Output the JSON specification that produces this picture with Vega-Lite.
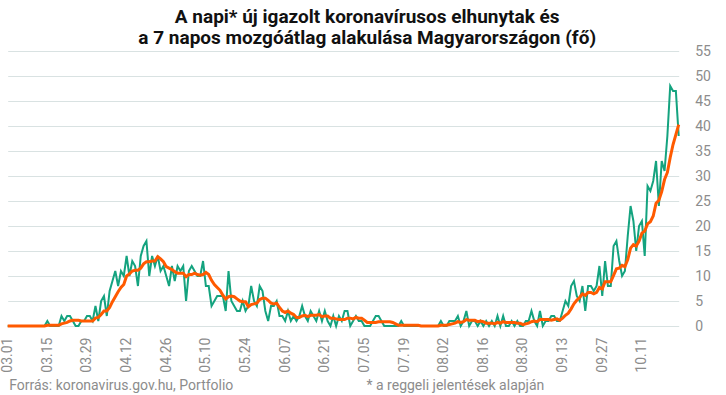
{
"$schema": "https://vega.github.io/schema/vega-lite/v6.json",
"width": 671,
"height": 275,
"autosize": {"type": "none"},
"padding": {"left": 7.7, "top": 51, "right": 47.3, "bottom": 69},
"background": "white",
"config": {"view": {"stroke": null}},
"title": {"text": ["A napi* új igazolt koronavírusos elhunytak és", "a 7 napos mozgóátlag alakulása Magyarországon (fő)"], "font": "Roboto", "fontSize": 19, "fontWeight": "bold", "color": "#111111", "anchor": "middle", "frame": "group", "dx": 24, "lineHeight": 20.6, "offset": -4},
"data": {"values": [
{"date":"2020-03-01","napi":0,"atlag":0},{"date":"2020-03-02","napi":0,"atlag":0},{"date":"2020-03-03","napi":0,"atlag":0},{"date":"2020-03-04","napi":0,"atlag":0},{"date":"2020-03-05","napi":0,"atlag":0},{"date":"2020-03-06","napi":0,"atlag":0},{"date":"2020-03-07","napi":0,"atlag":0},{"date":"2020-03-08","napi":0,"atlag":0},{"date":"2020-03-09","napi":0,"atlag":0},{"date":"2020-03-10","napi":0,"atlag":0},{"date":"2020-03-11","napi":0,"atlag":0},{"date":"2020-03-12","napi":0,"atlag":0},{"date":"2020-03-13","napi":0,"atlag":0},{"date":"2020-03-14","napi":0,"atlag":0},
{"date":"2020-03-15","napi":1,"atlag":0.14},{"date":"2020-03-16","napi":0,"atlag":0.14},{"date":"2020-03-17","napi":0,"atlag":0.14},{"date":"2020-03-18","napi":0,"atlag":0.14},{"date":"2020-03-19","napi":0,"atlag":0.14},{"date":"2020-03-20","napi":2,"atlag":0.43},{"date":"2020-03-21","napi":1,"atlag":0.57},{"date":"2020-03-22","napi":2,"atlag":0.71},{"date":"2020-03-23","napi":2,"atlag":1},{"date":"2020-03-24","napi":1,"atlag":1.14},{"date":"2020-03-25","napi":0,"atlag":1.14},{"date":"2020-03-26","napi":0,"atlag":1.14},{"date":"2020-03-27","napi":1,"atlag":1},{"date":"2020-03-28","napi":1,"atlag":1},{"date":"2020-03-29","napi":2,"atlag":1},{"date":"2020-03-30","napi":2,"atlag":1},{"date":"2020-03-31","napi":1,"atlag":1},
{"date":"2020-04-01","napi":4,"atlag":1.57},{"date":"2020-04-02","napi":1,"atlag":1.71},{"date":"2020-04-03","napi":5,"atlag":2.29},{"date":"2020-04-04","napi":6,"atlag":3},{"date":"2020-04-05","napi":2,"atlag":3},{"date":"2020-04-06","napi":7,"atlag":3.71},{"date":"2020-04-07","napi":9,"atlag":4.86},{"date":"2020-04-08","napi":11,"atlag":5.86},{"date":"2020-04-09","napi":8,"atlag":6.86},{"date":"2020-04-10","napi":11,"atlag":7.71},{"date":"2020-04-11","napi":10,"atlag":8.29},{"date":"2020-04-12","napi":14,"atlag":10},{"date":"2020-04-13","napi":10,"atlag":10.43},{"date":"2020-04-14","napi":13,"atlag":11},{"date":"2020-04-15","napi":12,"atlag":11.14},{"date":"2020-04-16","napi":8,"atlag":11.14},{"date":"2020-04-17","napi":14,"atlag":11.57},{"date":"2020-04-18","napi":16,"atlag":12.43},{"date":"2020-04-19","napi":17,"atlag":12.86},{"date":"2020-04-20","napi":10,"atlag":12.86},{"date":"2020-04-21","napi":14,"atlag":13},{"date":"2020-04-22","napi":12,"atlag":13},{"date":"2020-04-23","napi":14,"atlag":13.86},{"date":"2020-04-24","napi":11,"atlag":13.43},{"date":"2020-04-25","napi":12,"atlag":12.86},{"date":"2020-04-26","napi":10,"atlag":11.86},{"date":"2020-04-27","napi":8,"atlag":11.57},{"date":"2020-04-28","napi":12,"atlag":11.29},{"date":"2020-04-29","napi":9,"atlag":10.86},{"date":"2020-04-30","napi":12,"atlag":10.57},
{"date":"2020-05-01","napi":11,"atlag":10.57},{"date":"2020-05-02","napi":12,"atlag":10.57},{"date":"2020-05-03","napi":5,"atlag":9.86},{"date":"2020-05-04","napi":11,"atlag":10.29},{"date":"2020-05-05","napi":12,"atlag":10.29},{"date":"2020-05-06","napi":11,"atlag":10.57},{"date":"2020-05-07","napi":10,"atlag":10.29},{"date":"2020-05-08","napi":10,"atlag":10.14},{"date":"2020-05-09","napi":13,"atlag":10.29},{"date":"2020-05-10","napi":8,"atlag":10.71},{"date":"2020-05-11","napi":8,"atlag":10.29},{"date":"2020-05-12","napi":4,"atlag":9.14},{"date":"2020-05-13","napi":5,"atlag":8.29},{"date":"2020-05-14","napi":6,"atlag":7.71},{"date":"2020-05-15","napi":6,"atlag":7.14},{"date":"2020-05-16","napi":6,"atlag":6.14},{"date":"2020-05-17","napi":3,"atlag":5.43},{"date":"2020-05-18","napi":11,"atlag":5.86},{"date":"2020-05-19","napi":5,"atlag":6},{"date":"2020-05-20","napi":4,"atlag":5.86},{"date":"2020-05-21","napi":3,"atlag":5.43},{"date":"2020-05-22","napi":3,"atlag":5},{"date":"2020-05-23","napi":5,"atlag":4.86},{"date":"2020-05-24","napi":3,"atlag":4.86},{"date":"2020-05-25","napi":4,"atlag":3.86},{"date":"2020-05-26","napi":8,"atlag":4.29},{"date":"2020-05-27","napi":5,"atlag":4.43},{"date":"2020-05-28","napi":4,"atlag":4.57},{"date":"2020-05-29","napi":8,"atlag":5.29},{"date":"2020-05-30","napi":7,"atlag":5.57},{"date":"2020-05-31","napi":3,"atlag":5.57},
{"date":"2020-06-01","napi":1,"atlag":5.14},{"date":"2020-06-02","napi":4,"atlag":4.57},{"date":"2020-06-03","napi":4,"atlag":4.43},{"date":"2020-06-04","napi":5,"atlag":4.57},{"date":"2020-06-05","napi":2,"atlag":3.71},{"date":"2020-06-06","napi":2,"atlag":3},{"date":"2020-06-07","napi":1,"atlag":2.71},{"date":"2020-06-08","napi":3,"atlag":3},{"date":"2020-06-09","napi":1,"atlag":2.57},{"date":"2020-06-10","napi":2,"atlag":2.29},{"date":"2020-06-11","napi":1,"atlag":1.71},{"date":"2020-06-12","napi":2,"atlag":1.71},{"date":"2020-06-13","napi":4,"atlag":2},{"date":"2020-06-14","napi":2,"atlag":2.14},{"date":"2020-06-15","napi":1,"atlag":1.86},{"date":"2020-06-16","napi":3,"atlag":2.14},{"date":"2020-06-17","napi":2,"atlag":2.14},{"date":"2020-06-18","napi":1,"atlag":2.14},{"date":"2020-06-19","napi":3,"atlag":2.29},{"date":"2020-06-20","napi":1,"atlag":1.86},{"date":"2020-06-21","napi":3,"atlag":2},{"date":"2020-06-22","napi":1,"atlag":2},{"date":"2020-06-23","napi":0,"atlag":1.57},{"date":"2020-06-24","napi":2,"atlag":1.57},{"date":"2020-06-25","napi":0,"atlag":1.43},{"date":"2020-06-26","napi":2,"atlag":1.29},{"date":"2020-06-27","napi":1,"atlag":1.29},{"date":"2020-06-28","napi":3,"atlag":1.29},{"date":"2020-06-29","napi":3,"atlag":1.57},{"date":"2020-06-30","napi":0,"atlag":1.57},
{"date":"2020-07-01","napi":1,"atlag":1.43},{"date":"2020-07-02","napi":2,"atlag":1.71},{"date":"2020-07-03","napi":1,"atlag":1.57},{"date":"2020-07-04","napi":1,"atlag":1.57},{"date":"2020-07-05","napi":0,"atlag":1.14},{"date":"2020-07-06","napi":0,"atlag":0.71},{"date":"2020-07-07","napi":0,"atlag":0.71},{"date":"2020-07-08","napi":1,"atlag":0.71},{"date":"2020-07-09","napi":2,"atlag":0.71},{"date":"2020-07-10","napi":2,"atlag":0.86},{"date":"2020-07-11","napi":1,"atlag":0.86},{"date":"2020-07-12","napi":0,"atlag":0.86},{"date":"2020-07-13","napi":0,"atlag":0.86},{"date":"2020-07-14","napi":0,"atlag":0.86},{"date":"2020-07-15","napi":0,"atlag":0.71},{"date":"2020-07-16","napi":0,"atlag":0.43},{"date":"2020-07-17","napi":0,"atlag":0.14},{"date":"2020-07-18","napi":1,"atlag":0.14},{"date":"2020-07-19","napi":0,"atlag":0.14},{"date":"2020-07-20","napi":0,"atlag":0.14},{"date":"2020-07-21","napi":0,"atlag":0.14},{"date":"2020-07-22","napi":0,"atlag":0.14},{"date":"2020-07-23","napi":0,"atlag":0.14},{"date":"2020-07-24","napi":0,"atlag":0.14},{"date":"2020-07-25","napi":0,"atlag":0},{"date":"2020-07-26","napi":0,"atlag":0},{"date":"2020-07-27","napi":0,"atlag":0},{"date":"2020-07-28","napi":0,"atlag":0},{"date":"2020-07-29","napi":0,"atlag":0},{"date":"2020-07-30","napi":0,"atlag":0},{"date":"2020-07-31","napi":0,"atlag":0},
{"date":"2020-08-01","napi":1,"atlag":0.14},{"date":"2020-08-02","napi":0,"atlag":0.14},{"date":"2020-08-03","napi":0,"atlag":0.14},{"date":"2020-08-04","napi":1,"atlag":0.29},{"date":"2020-08-05","napi":1,"atlag":0.43},{"date":"2020-08-06","napi":1,"atlag":0.57},{"date":"2020-08-07","napi":2,"atlag":0.86},{"date":"2020-08-08","napi":0,"atlag":0.71},{"date":"2020-08-09","napi":1,"atlag":0.86},{"date":"2020-08-10","napi":3,"atlag":1.29},{"date":"2020-08-11","napi":0,"atlag":1.14},{"date":"2020-08-12","napi":1,"atlag":1.14},{"date":"2020-08-13","napi":1,"atlag":1.14},{"date":"2020-08-14","napi":0,"atlag":0.86},{"date":"2020-08-15","napi":1,"atlag":1},{"date":"2020-08-16","napi":0,"atlag":0.86},{"date":"2020-08-17","napi":1,"atlag":0.57},{"date":"2020-08-18","napi":0,"atlag":0.57},{"date":"2020-08-19","napi":1,"atlag":0.57},{"date":"2020-08-20","napi":0,"atlag":0.43},{"date":"2020-08-21","napi":2,"atlag":0.71},{"date":"2020-08-22","napi":0,"atlag":0.57},{"date":"2020-08-23","napi":2,"atlag":0.86},{"date":"2020-08-24","napi":0,"atlag":0.71},{"date":"2020-08-25","napi":0,"atlag":0.71},{"date":"2020-08-26","napi":1,"atlag":0.71},{"date":"2020-08-27","napi":0,"atlag":0.71},{"date":"2020-08-28","napi":1,"atlag":0.57},{"date":"2020-08-29","napi":0,"atlag":0.57},{"date":"2020-08-30","napi":0,"atlag":0.29},{"date":"2020-08-31","napi":1,"atlag":0.43},
{"date":"2020-09-01","napi":1,"atlag":0.57},{"date":"2020-09-02","napi":3,"atlag":0.86},{"date":"2020-09-03","napi":1,"atlag":1},{"date":"2020-09-04","napi":0,"atlag":0.86},{"date":"2020-09-05","napi":3,"atlag":1.29},{"date":"2020-09-06","napi":0,"atlag":1.29},{"date":"2020-09-07","napi":1,"atlag":1.29},{"date":"2020-09-08","napi":1,"atlag":1.29},{"date":"2020-09-09","napi":2,"atlag":1.14},{"date":"2020-09-10","napi":2,"atlag":1.29},{"date":"2020-09-11","napi":1,"atlag":1.43},{"date":"2020-09-12","napi":1,"atlag":1.14},{"date":"2020-09-13","napi":3,"atlag":1.57},{"date":"2020-09-14","napi":5,"atlag":2.14},{"date":"2020-09-15","napi":4,"atlag":2.57},{"date":"2020-09-16","napi":8,"atlag":3.43},{"date":"2020-09-17","napi":9,"atlag":4.43},{"date":"2020-09-18","napi":6,"atlag":5.14},{"date":"2020-09-19","napi":5,"atlag":5.71},{"date":"2020-09-20","napi":8,"atlag":6.43},{"date":"2020-09-21","napi":3,"atlag":6.14},{"date":"2020-09-22","napi":8,"atlag":6.71},{"date":"2020-09-23","napi":8,"atlag":6.71},{"date":"2020-09-24","napi":7,"atlag":6.43},{"date":"2020-09-25","napi":8,"atlag":6.71},{"date":"2020-09-26","napi":12,"atlag":7.71},{"date":"2020-09-27","napi":6,"atlag":7.43},{"date":"2020-09-28","napi":13,"atlag":8.86},{"date":"2020-09-29","napi":8,"atlag":8.86},{"date":"2020-09-30","napi":8,"atlag":8.86},
{"date":"2020-10-01","napi":16,"atlag":10.14},{"date":"2020-10-02","napi":17,"atlag":11.43},{"date":"2020-10-03","napi":13,"atlag":11.57},{"date":"2020-10-04","napi":10,"atlag":12.14},{"date":"2020-10-05","napi":11,"atlag":11.86},{"date":"2020-10-06","napi":18,"atlag":13.29},{"date":"2020-10-07","napi":24,"atlag":15.57},{"date":"2020-10-08","napi":21,"atlag":16.29},{"date":"2020-10-09","napi":15,"atlag":16},{"date":"2020-10-10","napi":20,"atlag":17},{"date":"2020-10-11","napi":21,"atlag":18.57},{"date":"2020-10-12","napi":14,"atlag":19},{"date":"2020-10-13","napi":28,"atlag":20.43},{"date":"2020-10-14","napi":27,"atlag":20.86},{"date":"2020-10-15","napi":29,"atlag":22},{"date":"2020-10-16","napi":33,"atlag":24.57},{"date":"2020-10-17","napi":24,"atlag":25.14},{"date":"2020-10-18","napi":33,"atlag":26.86},{"date":"2020-10-19","napi":31,"atlag":29.29},{"date":"2020-10-20","napi":38,"atlag":30.71},{"date":"2020-10-21","napi":48,"atlag":33.71},{"date":"2020-10-22","napi":47,"atlag":36.29},{"date":"2020-10-23","napi":47,"atlag":38.29},{"date":"2020-10-24","napi":38,"atlag":40.29}
]},
"encoding": {
"x": {"field": "date", "type": "temporal",
 "scale": {"type": "utc", "domain": [{"year": 2020, "month": 3, "date": 1, "utc": true}, {"year": 2020, "month": 10, "date": 24, "utc": true}]},
 "axis": {
  "values": [{"year":2020,"month":3,"date":1,"utc":true},{"year":2020,"month":3,"date":15,"utc":true},{"year":2020,"month":3,"date":29,"utc":true},{"year":2020,"month":4,"date":12,"utc":true},{"year":2020,"month":4,"date":26,"utc":true},{"year":2020,"month":5,"date":10,"utc":true},{"year":2020,"month":5,"date":24,"utc":true},{"year":2020,"month":6,"date":7,"utc":true},{"year":2020,"month":6,"date":21,"utc":true},{"year":2020,"month":7,"date":5,"utc":true},{"year":2020,"month":7,"date":19,"utc":true},{"year":2020,"month":8,"date":2,"utc":true},{"year":2020,"month":8,"date":16,"utc":true},{"year":2020,"month":8,"date":30,"utc":true},{"year":2020,"month":9,"date":13,"utc":true},{"year":2020,"month":9,"date":27,"utc":true},{"year":2020,"month":10,"date":11,"utc":true}],
  "labelExpr": "utcFormat(datum.value, '%m.%d')",
  "labelAngle": -90, "labelAlign": "right", "labelBaseline": "middle",
  "labelFont": "Roboto", "labelFontSize": 14, "labelColor": "#8c8c8c", "labelPadding": 11,
  "labelFlush": false, "labelOverlap": false,
  "ticks": false, "domain": false, "grid": false,
  "title": "Forrás: koronavirus.gov.hu, Portfolio",
  "titleFont": "Roboto", "titleFontSize": 14, "titleFontWeight": "normal", "titleColor": "#8c8c8c",
  "titleAlign": "left", "titleAnchor": "start", "titleBaseline": "alphabetic", "titleX": 1, "titleY": 63
 }
}
},
"layer": [
 {"mark": {"type": "line", "color": "#14a37f", "strokeWidth": 2},
  "encoding": {"y": {"field": "napi", "type": "quantitative",
   "scale": {"domain": [0, 55], "nice": false, "zero": true},
   "axis": {"orient": "right", "values": [0,5,10,15,20,25,30,35,40,45,50,55], "labelOverlap": false,
    "labelFont": "Roboto", "labelFontSize": 14, "labelColor": "#8c8c8c", "labelAlign": "left", "labelPadding": 16,
    "ticks": false, "domain": false, "grid": true, "gridColor": "#d9e2e2", "gridWidth": 1,
    "title": "* a reggeli jelentések alapján",
    "titleFont": "Roboto", "titleFontSize": 14, "titleFontWeight": "normal", "titleColor": "#8c8c8c",
    "titleAngle": 0, "titleAlign": "left", "titleBaseline": "alphabetic", "titleX": -312.7, "titleY": 338}}}},
 {"mark": {"type": "line", "color": "#ff5a00", "strokeWidth": 3},
  "encoding": {"y": {"field": "atlag", "type": "quantitative",
   "scale": {"domain": [0, 55], "nice": false, "zero": true},
   "axis": {"orient": "right", "values": [0,5,10,15,20,25,30,35,40,45,50,55], "labelOverlap": false,
    "labelFont": "Roboto", "labelFontSize": 14, "labelColor": "#8c8c8c", "labelAlign": "left", "labelPadding": 16,
    "ticks": false, "domain": false, "grid": true, "gridColor": "#d9e2e2", "gridWidth": 1,
    "title": "* a reggeli jelentések alapján",
    "titleFont": "Roboto", "titleFontSize": 14, "titleFontWeight": "normal", "titleColor": "#8c8c8c",
    "titleAngle": 0, "titleAlign": "left", "titleBaseline": "alphabetic", "titleX": -312.7, "titleY": 338}}}}
]
}
